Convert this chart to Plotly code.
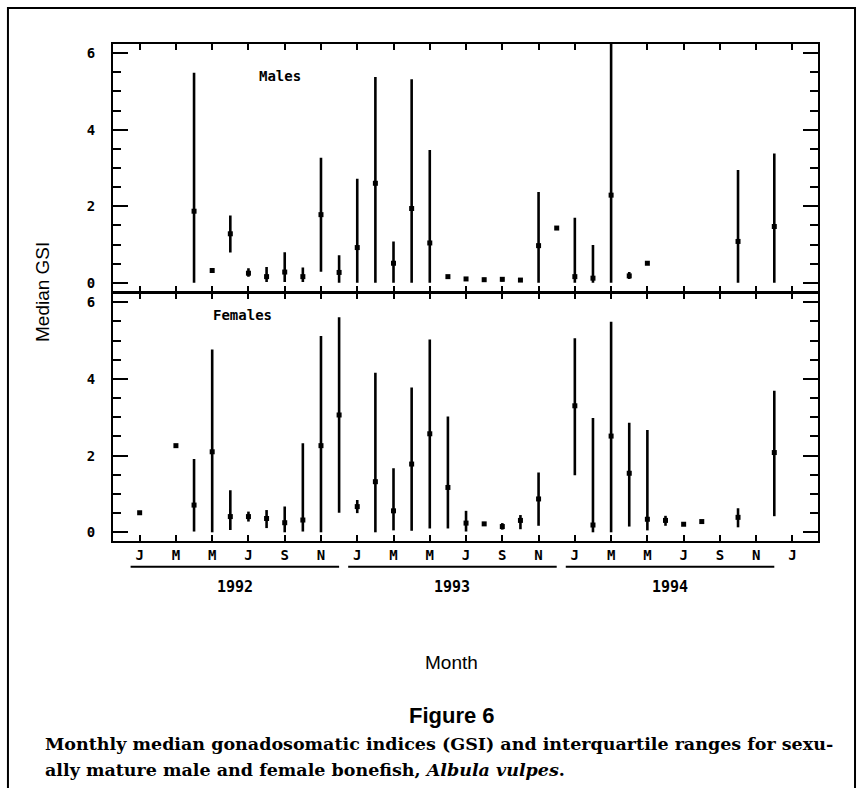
import plotly.graph_objects as go

# Month index: 0 = January 1992
male_month = [3, 4, 5, 6, 7, 8, 9, 10, 11, 12, 13, 14, 15, 16, 17, 18, 19, 20, 21, 22, 23, 24, 25, 26, 27, 28, 33, 35]
male_median = [1.87, 0.32, 1.28, 0.25, 0.16, 0.28, 0.16, 1.78, 0.27, 0.92, 2.60, 0.51, 1.94, 1.04, 0.16, 0.10, 0.08, 0.09, 0.07, 0.97, 1.43, 0.16, 0.12, 2.29, 0.18, 0.51, 1.08, 1.47]
male_q1 = [0.00, 0.32, 0.79, 0.16, 0.02, 0.02, 0.02, 0.29, 0.00, 0.00, 0.00, 0.00, 0.00, 0.00, 0.16, 0.10, 0.03, 0.03, 0.07, 0.00, 1.43, 0.00, 0.00, 0.00, 0.10, 0.51, 0.00, 0.00]
male_q3 = [5.49, 0.32, 1.76, 0.38, 0.41, 0.80, 0.40, 3.27, 0.72, 2.72, 5.38, 1.08, 5.32, 3.47, 0.16, 0.10, 0.13, 0.15, 0.07, 2.37, 1.43, 1.70, 0.99, 6.24, 0.28, 0.51, 2.95, 3.38]

female_month = [0, 2, 3, 4, 5, 6, 7, 8, 9, 10, 11, 12, 13, 14, 15, 16, 17, 18, 19, 20, 21, 22, 24, 25, 26, 27, 28, 29, 30, 31, 33, 35]
female_median = [0.51, 2.26, 0.71, 2.10, 0.41, 0.41, 0.36, 0.25, 0.32, 2.26, 3.06, 0.67, 1.32, 0.56, 1.78, 2.57, 1.17, 0.24, 0.22, 0.15, 0.31, 0.87, 3.30, 0.19, 2.51, 1.54, 0.34, 0.31, 0.21, 0.28, 0.39, 2.08]
female_q1 = [0.51, 2.26, 0.02, 0.00, 0.06, 0.28, 0.11, 0.00, 0.02, 0.00, 0.51, 0.50, 0.00, 0.05, 0.04, 0.10, 0.10, 0.02, 0.17, 0.07, 0.08, 0.17, 1.49, 0.00, 0.00, 0.15, 0.05, 0.17, 0.21, 0.28, 0.13, 0.42]
female_q3 = [0.51, 2.26, 1.91, 4.77, 1.10, 0.54, 0.58, 0.67, 2.32, 5.12, 5.61, 0.84, 4.16, 1.67, 3.78, 5.03, 3.02, 0.56, 0.27, 0.24, 0.45, 1.56, 5.06, 2.98, 5.49, 2.86, 2.67, 0.43, 0.21, 0.28, 0.63, 3.69]

tick_months = list(range(0, 37, 2))
tick_labels = ["J", "M", "M", "J", "S", "N"] * 3 + ["J"]
years = ["1992", "1993", "1994"]
y_ticks = [0, 2, 4, 6]

mono = "DejaVu Sans Mono"

fig = go.Figure()


def add_series(months, med, q1, q3, xa, ya):
    fig.add_trace(go.Scatter(
        x=months, y=med, xaxis=xa, yaxis=ya, mode="markers",
        marker=dict(symbol="square", size=5, color="black"),
        error_y=dict(type="data", symmetric=False,
                     array=[h - m for h, m in zip(q3, med)],
                     arrayminus=[m - l for m, l in zip(med, q1)],
                     width=0, thickness=2.6, color="black"),
        showlegend=False, cliponaxis=False, hoverinfo="skip",
    ))


add_series(male_month, male_median, male_q1, male_q3, "x", "y")
add_series(female_month, female_median, female_q1, female_q3, "x2", "y2")

xcommon = dict(range=[-1.47, 37.41], tickvals=tick_months, ticks="inside", ticklen=6,
               tickwidth=2, tickcolor="black", showline=True, linewidth=2.2, linecolor="black",
               mirror="ticks", showgrid=False, zeroline=False)
ycommon = dict(tickvals=y_ticks, ticks="inside", ticklen=15, tickwidth=2, tickcolor="black",
               showline=True, linewidth=2.2, linecolor="black", mirror="ticks",
               showgrid=False, zeroline=False, ticklabelstandoff=13,
               tickfont=dict(family=mono, size=14, color="black", weight="bold"),
               minor=dict(dtick=0.5, ticks="inside", ticklen=8, tickwidth=2, tickcolor="black"))

fig.update_layout(
    width=861, height=788,
    margin=dict(l=113, r=43, t=44, b=247),
    paper_bgcolor="white", plot_bgcolor="white",
    xaxis=dict(**xcommon, anchor="y", showticklabels=False, matches="x2"),
    yaxis=dict(**ycommon, domain=[0.5015, 1.0], range=[-0.235, 6.24], anchor="x"),
    xaxis2=dict(**xcommon, anchor="y2", ticktext=tick_labels,
                tickfont=dict(family=mono, size=14, color="black", weight="bold")),
    yaxis2=dict(**ycommon, domain=[0.0, 0.4996], range=[-0.227, 6.25], anchor="x2"),
)

anns = [
    dict(text="<b>Males</b>", x=7.72, y=5.41, xref="x", yref="y", showarrow=False,
         font=dict(family=mono, size=14, color="black")),
    dict(text="<b>Females</b>", x=5.68, y=5.67, xref="x2", yref="y2", showarrow=False,
         font=dict(family=mono, size=14, color="black")),
    dict(text="Median GSI", x=-0.1007, y=0.501, xref="paper", yref="paper", textangle=-90,
         xanchor="center", yanchor="middle",
         showarrow=False, font=dict(family="Liberation Sans", size=19, color="black")),
    dict(text="Month", x=0.4805, y=-0.245, xref="paper", yref="paper", showarrow=False,
         xanchor="center", yanchor="middle",
         font=dict(family="Liberation Sans", size=19, color="black")),
    dict(text="<b>Figure 6</b>", x=0.4805, y=-0.352, xref="paper", yref="paper", showarrow=False,
         xanchor="center", yanchor="middle",
         font=dict(family="Liberation Sans", size=22, color="black")),
    dict(text="<b>Monthly median gonadosomatic indices (GSI) and interquartile ranges for sexu-</b>",
         x=-0.0989, y=-0.408, xref="paper", yref="paper", xanchor="left", yanchor="middle",
         showarrow=False, font=dict(family="DejaVu Serif", size=17.5, color="black")),
    dict(text="<b>ally mature male and female bonefish, <i>Albula vulpes</i>.</b>",
         x=-0.0989, y=-0.461, xref="paper", yref="paper", xanchor="left", yanchor="middle",
         showarrow=False, font=dict(family="DejaVu Serif", size=17.5, color="black")),
]
shapes = []
for i, yr in enumerate(years):
    start = 12 * i - 0.5
    end = 12 * i + 11
    shapes.append(dict(type="line", xref="x2", yref="paper", x0=start, x1=end,
                       y0=-0.0517, y1=-0.0517, line=dict(color="black", width=2)))
    anns.append(dict(text="<b>" + yr + "</b>", x=(start + end) / 2, y=-0.0926, xref="x2", yref="paper",
                     xanchor="center", yanchor="middle",
                     showarrow=False, font=dict(family=mono, size=15, color="black")))

shapes.append(dict(type="rect", xref="paper", yref="paper", x0=-0.149, x1=1.0525, y0=-0.7, y1=1.0724,
                   line=dict(color="black", width=2)))

fig.update_layout(annotations=anns, shapes=shapes)
fig.write_html("out.html", config={"displayModeBar": False},
               post_script="document.body.style.margin='0';document.body.style.overflow='hidden';")
